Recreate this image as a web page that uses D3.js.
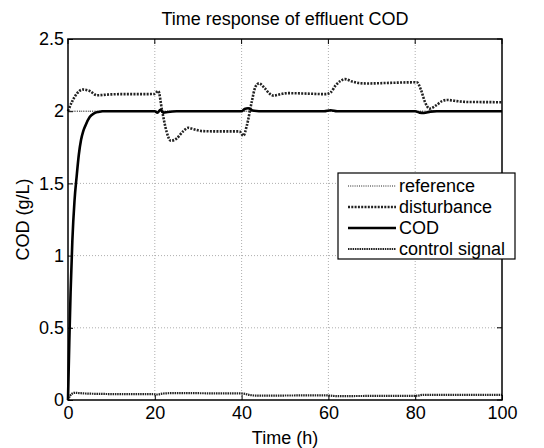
<!DOCTYPE html>
<html>
<head>
<meta charset="utf-8">
<script src="https://cdn.jsdelivr.net/npm/d3@7"></script>
<style>
  body { margin: 0; background: #fff; }
  svg { font-family: "Liberation Sans", Arial, sans-serif; }
</style>
</head>
<body>
<div id="chart"></div>
<script>
// values
const xTicks = [0, 20, 40, 60, 80, 100];
const yTicks = [0, 0.5, 1, 1.5, 2, 2.5];

const referenceT = [0, 100];
const referenceV = [2, 2];

const disturbanceT = [0, 1, 2, 3.4, 5, 6.7, 9, 12, 16, 19.9, 20.8, 21.7, 22.7, 23.7, 25, 26.5, 27.7, 29, 31, 35, 39.5, 40.4, 41.2, 42.3, 43.2, 44, 45.3, 46.5, 47.4, 49, 50.6, 55, 59.4, 60.5, 61.7, 62.8, 63.8, 65.5, 67, 69, 74, 79.5, 80.4, 81.3, 82.3, 83.3, 84.8, 86.2, 87.4, 89, 92, 96, 100];
const disturbanceV = [2, 2.07, 2.12, 2.15, 2.14, 2.11, 2.115, 2.118, 2.118, 2.119, 2.14, 2.0, 1.86, 1.795, 1.81, 1.86, 1.885, 1.875, 1.862, 1.86, 1.86, 1.83, 1.9, 2.06, 2.17, 2.193, 2.16, 2.12, 2.108, 2.118, 2.125, 2.122, 2.118, 2.13, 2.18, 2.21, 2.222, 2.205, 2.195, 2.192, 2.196, 2.2, 2.2, 2.15, 2.06, 2.018, 2.04, 2.07, 2.078, 2.072, 2.064, 2.063, 2.062];

const codT = [0, 0.3, 0.6, 1, 1.5, 2, 2.5, 3, 3.5, 4, 5, 6, 7, 8, 10, 20, 20.6, 21.3, 22, 23, 25, 40, 40.7, 41.5, 42.5, 44, 59, 60.5, 62, 80, 81, 82, 83.5, 85, 100];
const codV = [0, 0.4, 0.75, 1.1, 1.38, 1.55, 1.7, 1.8, 1.86, 1.9, 1.96, 1.985, 1.995, 2, 2, 2, 1.99, 2.01, 1.99, 1.995, 2, 2, 2.015, 2.02, 2.005, 2, 2, 2.007, 2, 2, 1.99, 1.988, 1.997, 2, 2];

const controlT = [0, 0.5, 1, 1.5, 2.5, 4, 8, 15, 19.5, 20.5, 22, 25, 30, 35, 39.5, 40.5, 42, 44, 50, 59.5, 60.5, 62, 70, 79.5, 80.5, 82, 90, 100];
const controlV = [0, 0.03, 0.045, 0.05, 0.048, 0.045, 0.042, 0.04, 0.04, 0.038, 0.045, 0.048, 0.047, 0.046, 0.046, 0.044, 0.034, 0.03, 0.031, 0.032, 0.03, 0.027, 0.028, 0.028, 0.03, 0.036, 0.036, 0.036];

const legendNames = ["reference", "disturbance", "COD", "control signal"];

const width = 544, height = 448;
const margin = { left: 68, right: 42, top: 39, bottom: 48 };
const fontSize = 18;

const svg = d3.select('#chart').append('svg')
  .attr('width', width)
  .attr('height', height);

const x = d3.scaleLinear().domain([0, 100]).range([margin.left, width - margin.right]);
const y = d3.scaleLinear().domain([0, 2.5]).range([height - margin.bottom, margin.top]);

const styles = [
  { stroke: '#222', width: 1, dash: '1,1.2' },
  { stroke: '#222', width: 2.6, dash: '2,1.3' },
  { stroke: '#000', width: 2.6, dash: null },
  { stroke: '#222', width: 2.2, dash: '1.5,0.8' }
];

// grid
const grid = svg.append('g');
grid.selectAll('.gx')
  .data(xTicks.slice(1, -1))
  .join('line')
  .attr('x1', d => x(d)).attr('x2', d => x(d))
  .attr('y1', y(0)).attr('y2', y(2.5))
  .attr('stroke', '#999').attr('stroke-width', 0.8).attr('stroke-dasharray', '1,2');
grid.selectAll('.gy')
  .data(yTicks.slice(1, -1))
  .join('line')
  .attr('y1', d => y(d)).attr('y2', d => y(d))
  .attr('x1', x(0)).attr('x2', x(100))
  .attr('stroke', '#999').attr('stroke-width', 0.8).attr('stroke-dasharray', '1,2');

// axes
const xAxis = svg.append('g')
  .attr('transform', `translate(0, ${y(0)})`)
  .call(d3.axisBottom(x).tickValues(xTicks).tickSize(-5).tickPadding(6).tickFormat(d3.format('d')));
const yAxis = svg.append('g')
  .attr('transform', `translate(${x(0)}, 0)`)
  .call(d3.axisLeft(y).tickValues(yTicks).tickSize(-5).tickPadding(4).tickFormat(d => d));
[xAxis, yAxis].forEach(a => {
  a.select('.domain').remove();
  a.selectAll('text').attr('font-size', fontSize).attr('fill', '#000').attr('font-family', '"Liberation Sans", Arial, sans-serif');
  a.selectAll('line').attr('stroke', '#000');
});
// right / top ticks
svg.append('g').selectAll('line')
  .data(yTicks).join('line')
  .attr('x1', x(100)).attr('x2', x(100) - 5)
  .attr('y1', d => y(d)).attr('y2', d => y(d))
  .attr('stroke', '#000');
svg.append('g').selectAll('line')
  .data(xTicks).join('line')
  .attr('y1', y(2.5)).attr('y2', y(2.5) + 5)
  .attr('x1', d => x(d)).attr('x2', d => x(d))
  .attr('stroke', '#000');

// series
const series = [
  referenceT.map((t, i) => [t, referenceV[i]]),
  disturbanceT.map((t, i) => [t, disturbanceV[i]]),
  codT.map((t, i) => [t, codV[i]]),
  controlT.map((t, i) => [t, controlV[i]])
];
const line = d3.line().x(d => x(d[0])).y(d => y(d[1])).curve(d3.curveMonotoneX);
svg.append('g').selectAll('path')
  .data(series)
  .join('path')
  .attr('d', d => line(d))
  .attr('fill', 'none')
  .attr('stroke', (d, i) => styles[i].stroke)
  .attr('stroke-width', (d, i) => styles[i].width)
  .attr('stroke-dasharray', (d, i) => styles[i].dash);

// frame
svg.append('rect')
  .attr('x', x(0)).attr('y', y(2.5))
  .attr('width', x(100) - x(0)).attr('height', y(0) - y(2.5))
  .attr('fill', 'none').attr('stroke', '#000').attr('stroke-width', 1.5);

// legend
const legend = svg.append('g').attr('transform', 'translate(338, 173)');
legend.append('rect')
  .attr('width', 177).attr('height', 86)
  .attr('fill', '#fff').attr('stroke', '#000').attr('stroke-width', 1.2);
const rows = legend.selectAll('.row')
  .data(legendNames)
  .join('g')
  .attr('transform', (d, i) => `translate(0, ${13 + i * 21})`);
rows.append('line')
  .attr('x1', 10).attr('x2', 58)
  .attr('stroke', (d, i) => styles[i].stroke)
  .attr('stroke-width', (d, i) => styles[i].width)
  .attr('stroke-dasharray', (d, i) => styles[i].dash);
rows.append('text')
  .attr('x', 61).attr('dy', '0.35em')
  .attr('font-size', fontSize)
  .text(d => d);

// titles
svg.append('text')
  .attr('x', (x(0) + x(100)) / 2).attr('y', 25)
  .attr('text-anchor', 'middle').attr('font-size', fontSize)
  .text('Time response of effluent COD');
svg.append('text')
  .attr('x', (x(0) + x(100)) / 2).attr('y', 444)
  .attr('text-anchor', 'middle').attr('font-size', fontSize)
  .text('Time (h)');
svg.append('text')
  .attr('transform', `translate(29, ${(y(0) + y(2.5)) / 2}) rotate(-90)`)
  .attr('text-anchor', 'middle').attr('font-size', fontSize)
  .text('COD (g/L)');
</script>
</body>
</html>
